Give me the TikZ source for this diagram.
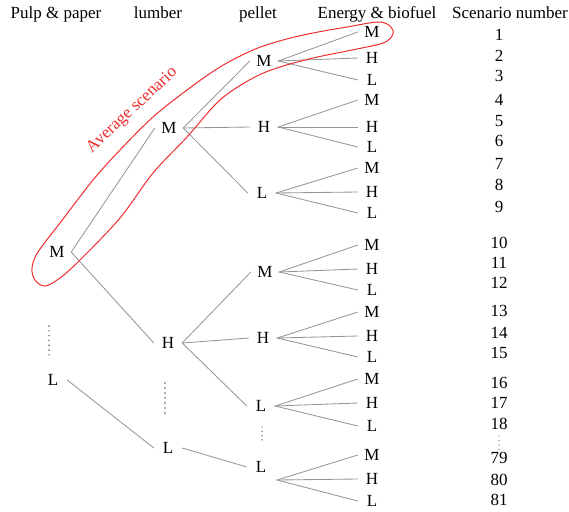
\documentclass[tikz,border=0pt]{standalone}
\usepackage{fontspec}
\setmainfont{Liberation Serif}
\definecolor{branchgray}{RGB}{150,150,150}
\definecolor{dotgray}{RGB}{90,90,90}
\definecolor{avgred}{RGB}{240,45,45}
\tikzset{
  lbl/.style={inner sep=0pt, minimum width=28pt, text height=11.25pt, text depth=0pt,
              font=\fontsize{17}{20}\selectfont},
  head/.style={inner sep=0pt, text height=11.25pt, text depth=0pt,
               font=\fontsize{17}{20}\selectfont},
  branch/.style={draw=branchgray, line width=0.85pt},
  avgloop/.style={draw=avgred, line width=1pt},
  avglbl/.style={inner sep=0pt, text height=11.25pt, text depth=0pt, text=avgred,
                 font=\fontsize{17}{20}\selectfont},
}
\begin{document}
\begin{tikzpicture}[x=1pt,y=-1pt]
\useasboundingbox (0,0) rectangle (569,511);

% column headings
\node[head] (h1) at (56,13)  {Pulp \& paper};
\node[head] (h2) at (158,13) {lumber};
\node[head] (h3) at (258,13) {pellet};
\node[head] (h4) at (377,13) {Energy \& biofuel};
\node[head] (h5) at (510,13) {Scenario number};

% pulp & paper level
\node[lbl] (r1) at (57,252) {M};
\node[lbl] (r2) at (53,380) {L};

% lumber level
\node[lbl] (l1) at (169,128) {M};
\node[lbl] (l2) at (168,343) {H};
\node[lbl] (l3) at (168,448) {L};

% pellet level
\node[lbl] (p1) at (264,61)  {M};
\node[lbl] (p2) at (264,127) {H};
\node[lbl] (p3) at (262,193) {L};
\node[lbl] (p4) at (265,272) {M};
\node[lbl] (p5) at (263,338) {H};
\node[lbl] (p6) at (261,406) {L};
\node[lbl] (p7) at (261,467) {L};
\coordinate (p7fork) at (277,480);

% energy & biofuel level
\foreach \i/\y/\t in {1/32/M,2/58/H,3/80/L,
                      4/100/M,5/127/H,6/147/L,
                      7/168/M,8/192/H,9/213/L,
                      10/245/M,11/269/H,12/290/L,
                      13/312/M,14/336/H,15/357/L,
                      16/379/M,17/403/H,18/426/L,
                      19/455/M,20/479/H,21/501/L}
  \node[lbl] (e\i) at (372,\y) {\t};

% scenario numbers
\foreach \i/\y/\n in {1/35/1,2/56/2,3/76/3,4/100/4,5/121/5,6/141/6,
                      7/164/7,8/185/8,9/207/9,10/243/10,11/263/11,12/283/12,
                      13/311/13,14/333/14,15/353/15,16/383/16,17/403/17,18/424/18,
                      19/458/79,20/480/80,21/500/81}
  \node[head] (n\i) at (499,\y) {\n};

% branches
\draw[branch] (r1.east) -- (l1.west);
\draw[branch] (r1.east) -- (l2.west);
\draw[branch] (r2.east) -- (l3.west);
\foreach \c in {1,2,3} \draw[branch] (l1.east) -- (p\c.west);
\foreach \c in {4,5,6} \draw[branch] (l2.east) -- (p\c.west);
\draw[branch] (l3.east) -- (p7.west);
\foreach \g in {1,...,6} {
  \pgfmathtruncatemacro{\a}{3*\g-2}
  \pgfmathtruncatemacro{\b}{3*\g-1}
  \pgfmathtruncatemacro{\c}{3*\g}
  \draw[branch] (e\a.west) -- (p\g.east) -- (e\c.west);
  \draw[branch] (p\g.east) -- (e\b.west);
}
\draw[branch] (e19.west) -- (p7fork) -- (e21.west);
\draw[branch] (p7fork) -- (e20.west);

% vertical ellipses
\foreach \k in {0,...,6} {
  \fill[dotgray] (49,326+4.8*\k) circle (0.8pt);
  \fill[dotgray] (165,383+5*\k) circle (0.8pt);
}
\foreach \k in {0,...,3} \fill[dotgray] (262,427+4.3*\k) circle (0.7pt);
\foreach \k in {0,...,3} \fill[dotgray] (499,436+4.5*\k) circle (0.6pt);

% average scenario outline
\draw[avgloop] plot[smooth cycle, tension=0.55] coordinates {
  (32,268) (38,252) (60,223) (93,180) (120,150) (153,117) (187,90) (220,67)
  (253,50) (283,40) (313,33) (347,27) (378,22) (390,26) (393,34) (383,43)
  (347,51) (313,58) (280,67) (253,78) (220,100) (187,137) (153,173) (120,218)
  (80,260) (60,278) (45,286) (35,280)};
\node[avglbl, rotate=43] (avg) at (131,109) {Average scenario};
\end{tikzpicture}
\end{document}
